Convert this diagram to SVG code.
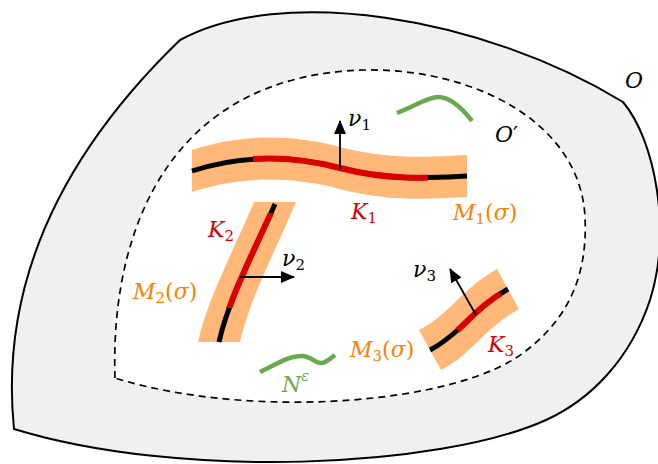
<svg xmlns="http://www.w3.org/2000/svg" width="658" height="464" viewBox="0 0 658 464">
<style>
.math{font-family:'DejaVu Serif','Liberation Serif',serif;font-style:italic;font-size:22px}
.up{font-style:normal}
.sub{font-size:15px;font-style:normal}
.band{fill:#ffb877;stroke:none}
.curve{fill:none;stroke:#000;stroke-width:5}
.red{fill:none;stroke:#d90000;stroke-width:6}
.green{fill:none;stroke:#6aa84f;stroke-width:4.5}
.arrow{stroke:#000;stroke-width:1.8;fill:none;marker-end:url(#ah)}
.kl{fill:#d90000}
.ml{fill:#ff8000}
</style>
<defs>
<marker id="ah" markerUnits="userSpaceOnUse" viewBox="0 0 14 12" refX="13" refY="6" markerWidth="14" markerHeight="12" orient="auto"><path d="M0,0 L14,6 L0,12 Z" fill="#000"/></marker>
<clipPath id="c1"><rect x="253" y="100" width="175" height="120"/></clipPath>
<clipPath id="c2"><rect x="180" y="213" width="130" height="95"/></clipPath>
<clipPath id="c3"><polygon points="440,310 474,350 514,313 486,273"/></clipPath>
</defs>

<g id="O">
<path d="M14,429 C4,330 25,190 180,40 C280,-15 480,15 623,102 C655,140 672,230 650,300 C630,360 590,400 546,420 C440,468 180,480 14,429 Z" fill="#f0f0f0" stroke="#000" stroke-width="2"/>
<text class="math" x="625" y="88">O</text>
</g>

<g id="Oprime">
<path d="M115,378 C110,230 170,75 365,70 C470,68 580,120 585,217 C588,280 565,320 527,350 C460,405 250,420 115,378 Z" fill="#fff" stroke="#000" stroke-width="1.7" stroke-dasharray="7,5"/>
<text class="math" x="495" y="142">O<tspan class="up">′</tspan></text>
</g>

<g id="M1">
<path class="band" d="M192,150 C240,134 290,134 340,147 C390,160 430,157 467,155 L467,197 C430,199 390,202 340,189 C290,176 240,176 192,192 Z"/>
<path class="curve" d="M192,171 C240,155 290,155 340,168 C390,181 430,178 467,176"/>
<path class="red" clip-path="url(#c1)" d="M192,171 C240,155 290,155 340,168 C390,181 430,178 467,176"/>
<text class="math kl" x="351" y="219">K<tspan class="sub" dy="4">1</tspan></text>
<text class="math ml" x="453" y="220">M<tspan class="sub" dy="4">1</tspan><tspan class="up" dy="-4">(</tspan>σ<tspan class="up">)</tspan></text>
</g>

<g id="M2">
<path class="band" d="M254,202 C236,245 207,300 198,342 L240,342 C249,300 278,245 296,202 Z"/>
<path class="curve" d="M275,204 C257,245 228,300 219,342"/>
<path class="red" clip-path="url(#c2)" d="M275,204 C257,245 228,300 219,342"/>
<text class="math kl" x="208" y="237">K<tspan class="sub" dy="4">2</tspan></text>
<text class="math ml" x="133" y="299">M<tspan class="sub" dy="4">2</tspan><tspan class="up" dy="-4">(</tspan>σ<tspan class="up">)</tspan></text>
</g>

<g id="M3">
<path class="band" d="M419,330 C431,324 439,317 449,308 C461,297 474,282 497,269 L519,309 C496,322 483,337 471,348 C461,357 453,364 441,370 Z"/>
<path class="curve" d="M430,350 C442,344 450,337 460,328 C472,317 485,302 508,289"/>
<path class="red" clip-path="url(#c3)" d="M430,350 C442,344 450,337 460,328 C472,317 485,302 508,289"/>
<text class="math kl" x="488" y="352">K<tspan class="sub" dy="4">3</tspan></text>
<text class="math ml" x="350" y="357">M<tspan class="sub" dy="4">3</tspan><tspan class="up" dy="-4">(</tspan>σ<tspan class="up">)</tspan></text>
</g>

<g id="N">
<path class="green" d="M397,113 C415,106 428,97 438,97 C450,97 462,108 472,121"/>
<path class="green" d="M260,372 C275,365 290,355 303,356 C312,357 316,364 322,363 C327,362 331,358 335,355"/>
<text class="math" x="282" y="392" fill="#6aa84f">N<tspan font-size="14" dy="-11">ε</tspan></text>
</g>

<g id="connectors">
<path class="arrow" d="M340,169 L340,121"/>
<path class="arrow" d="M240,277 L294,277"/>
<path class="arrow" d="M476,315 L450,269"/>
</g>

<g id="normals">
<text class="math" x="348" y="126">ν<tspan class="sub" dy="4">1</tspan></text>
<text class="math" x="282" y="266">ν<tspan class="sub" dy="4">2</tspan></text>
<text class="math" x="413" y="277">ν<tspan class="sub" dy="4">3</tspan></text>
</g>
</svg>
